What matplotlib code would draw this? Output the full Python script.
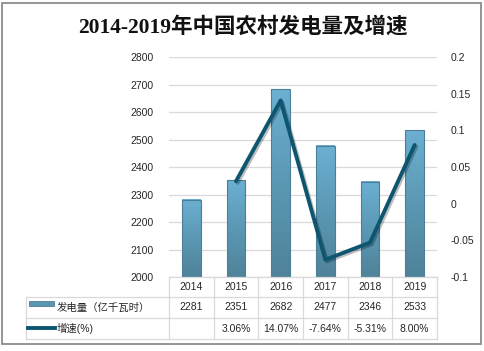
import numpy as np
import matplotlib
matplotlib.use("Agg")
import matplotlib.pyplot as plt
from matplotlib.colors import LinearSegmentedColormap
from matplotlib.patches import Rectangle
from matplotlib.lines import Line2D
from matplotlib.transforms import blended_transform_factory
import matplotlib.patheffects as pe

plt.rcParams['font.family'] = ['Liberation Sans', 'Noto Sans CJK SC', 'DejaVu Sans']

# data
years = ['2014', '2015', '2016', '2017', '2018', '2019']
output = [2281, 2351, 2682, 2477, 2346, 2533]          # 亿千瓦时
growth = [None, 0.0306, 0.1407, -0.0764, -0.0531, 0.0800]
growth_labels = ['', '3.06%', '14.07%', '-7.64%', '-5.31%', '8.00%']
left_ticks = [2000, 2100, 2200, 2300, 2400, 2500, 2600, 2700, 2800]
right_ticks = [-0.1, -0.05, 0, 0.05, 0.1, 0.15, 0.2]
right_labels = ['-0.1', '-0.05', '0', '0.05', '0.1', '0.15', '0.2']

W, H = 485, 351
fig = plt.figure(figsize=(W / 100, H / 100), dpi=100)


def fx(px):
    return px / W


def fy(py):
    return 1 - py / H


# outer frame
fig.add_artist(Rectangle((fx(2), fy(344)), fx(479), 341 / H, transform=fig.transFigure,
                         fill=False, edgecolor='#8c8c8c', linewidth=1.3))

fig.text(0.5, fy(27), '2014-2019年中国农村发电量及增速', ha='center', va='center',
         fontsize=15.5, fontweight='bold', color='#111111',
         family=['Liberation Serif', 'Noto Sans CJK SC'])

ax = fig.add_axes([fx(169), fy(277), fx(437) - fx(169), (277 - 57) / H])
x = np.arange(len(years))
ax.set_xticks([])
ax.tick_params(axis='y', length=0, pad=11, labelsize=7.5, labelcolor='#262626')
ax.grid(axis='y', color='#d9d9d9', linewidth=0.9)
ax.set_axisbelow(True)
for s in ax.spines.values():
    s.set_visible(False)

bar_color = '#5b97b2'
ybase = left_ticks[0]
bars = ax.bar(x, output, width=0.42, color='none', edgecolor='#4a7f96', linewidth=0.8, zorder=3)
cmap = LinearSegmentedColormap.from_list('bar', ['#4f8399', '#5b98b4', '#6cb0d2'])
grad = np.linspace(0, 1, 256).reshape(-1, 1)
for b in bars:
    x0 = b.get_x()
    ax.imshow(grad, extent=[x0, x0 + b.get_width(), ybase, b.get_height()],
              origin='lower', cmap=cmap, aspect='auto', zorder=2)
ax.set_xlim(-0.5, len(years) - 0.5)
ax.set_ylim(left_ticks[0], left_ticks[-1])
ax.set_yticks(left_ticks)

ax2 = ax.twinx()
ax2.set_ylim(right_ticks[0], right_ticks[-1])
ax2.set_yticks(right_ticks)
ax2.set_yticklabels(right_labels)
ax2.tick_params(axis='y', length=0, pad=10, labelsize=7.5, labelcolor='#262626')
for s in ax2.spines.values():
    s.set_visible(False)
gx = [i for i, g in enumerate(growth) if g is not None]
gy = [g for g in growth if g is not None]
ax2.plot(gx, gy, color='#0e5670', linewidth=2.8, solid_capstyle='round', zorder=4,
         path_effects=[pe.SimpleLineShadow(offset=(1.2, -1.2), alpha=0.25), pe.Normal()])

# data table below the plot
grid_c = '#d9d9d9'
tr = blended_transform_factory(ax.transData, fig.transFigure)
rows_y = [277, 297, 318, 339]
n = len(years)
fig.add_artist(Line2D([fx(169), fx(437)], [fy(277)] * 2, color=grid_c, lw=0.9))
for py in rows_y[1:]:
    fig.add_artist(Line2D([fx(26), fx(437)], [fy(py)] * 2, color=grid_c, lw=0.9))
fig.add_artist(Line2D([fx(26)] * 2, [fy(297), fy(339)], color=grid_c, lw=0.9))
for i in range(n + 1):
    fig.add_artist(Line2D([i - 0.5] * 2, [fy(277), fy(339)], transform=tr, color=grid_c, lw=0.9))

cell_kw = dict(ha='center', va='center', fontsize=7.5, color='#262626', transform=tr)
for i in range(n):
    fig.text(i, fy(287.5), years[i], **cell_kw)
    fig.text(i, fy(307.5), str(output[i]), **cell_kw)
    fig.text(i, fy(328.5), growth_labels[i], **cell_kw)

# legend keys in the table
fig.add_artist(Rectangle((fx(29), fy(306)), fx(25), 5 / H, transform=fig.transFigure,
                         facecolor=bar_color, edgecolor='#4a7f96', linewidth=0.6))
fig.add_artist(Line2D([fx(28), fx(55)], [fy(328)] * 2, color='#0e5670', lw=2.8))
fig.text(fx(57), fy(307.5), '发电量（亿千瓦时）', ha='left', va='center', fontsize=7.5,
         color='#262626')
fig.text(fx(57), fy(328.5), '增速(%)', ha='left', va='center', fontsize=7.5, color='#262626')

fig.savefig('out.png', dpi=100)
